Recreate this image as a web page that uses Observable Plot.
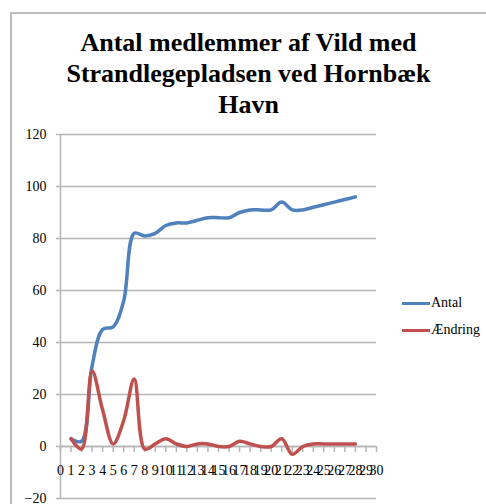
<!DOCTYPE html>
<html>
<head>
<meta charset="utf-8">
<script src="https://cdn.jsdelivr.net/npm/d3@7"></script>
<script src="https://cdn.jsdelivr.net/npm/@observablehq/plot@0.6"></script>
<style>
  body { margin: 0; background: #fff; }
  #wrap { position: relative; width: 486px; height: 504px; overflow: hidden; font-family: "Liberation Serif", serif; color: #000; }
  #frame { position: absolute; left: 10px; top: 12px; right: -4px; bottom: -4px; border-left: 2px solid #bcbcbc; border-top: 2px solid #bcbcbc; }
  #title { position: absolute; left: 11px; width: 475px; top: 27px; text-align: center; font-weight: bold; font-size: 26px; line-height: 31px; margin: 0; }
  #chart { position: absolute; left: 0; top: 128px; }
  .leg { position: absolute; left: 402px; height: 16px; display: flex; align-items: center; font-size: 14px; }
  .leg .sw { width: 28px; height: 3px; margin-right: 1px; }
</style>
</head>
<body>
<div id="wrap">
  <div id="frame"></div>
  <div id="title">Antal medlemmer af Vild med<br>Strandlegepladsen ved Hornbæk<br>Havn</div>
  <div id="chart"></div>
</div>
<script>
const dage = [1,2,3,4,5,6,7,8,9,10,11,12,13,14,15,16,17,18,19,20,21,22,23,24,25,26,27,28];
const antal = [3,2,31,45,46,56,82,81,82,85,86,86,87,88,88,88,90,91,91,91,94,91,91,92,93,94,95,96];
const aendring = [3,-1,29,14,1,10,26,-1,1,3,1,0,1,1,0,0,2,1,0,0,3,-3,0,1,1,1,1,1];
const xTicks = [0,1,2,3,4,5,6,7,8,9,10,11,12,13,14,15,16,17,18,19,20,21,22,23,24,25,26,27,28,29,30];
const yTicks = [-20,0,20,40,60,80,100,120];
const seriesNames = ["Antal", "Ændring"];
const seriesColors = ["#4F81BD", "#C0504D"];

const data = dage.map((d, i) => ({dag: d, antal: antal[i], aendring: aendring[i]}));
const gridColor = "#b5b5b5";

const chart = Plot.plot({
  width: 486,
  height: 376,
  marginLeft: 60,
  marginRight: 110,
  marginTop: 6,
  marginBottom: 6,
  style: {fontFamily: '"Liberation Serif", serif', fontSize: "14px", color: "#000", background: "transparent", overflow: "visible"},
  x: {domain: [0, 30], axis: null},
  y: {domain: [-20, 120], axis: null},
  marks: [
    Plot.gridY(yTicks, {stroke: gridColor, strokeOpacity: 1, strokeWidth: 1.5}),
    Plot.axisY(yTicks, {tickSize: 4, tickPadding: 10, stroke: gridColor, strokeWidth: 1.5, label: null}),
    Plot.ruleX([0], {stroke: gridColor, strokeWidth: 1.5}),
    Plot.ruleY([0], {stroke: gridColor, strokeWidth: 1.5}),
    Plot.ruleX(xTicks, {x: d => d, y1: 0, y2: 0, insetBottom: -6, stroke: gridColor, strokeWidth: 1.5}),
    Plot.text(xTicks, {x: d => d, y: 0, dy: 24, text: d => String(d), fill: "#000"}),
    Plot.line(data, {x: "dag", y: "antal", curve: "catmull-rom", stroke: seriesColors[0], strokeWidth: 3.5}),
    Plot.line(data, {x: "dag", y: "aendring", curve: "catmull-rom", stroke: seriesColors[1], strokeWidth: 3.5})
  ]
});
document.getElementById("chart").appendChild(chart);

const wrap = document.getElementById("wrap");
seriesNames.forEach((name, i) => {
  const item = document.createElement("div");
  item.className = "leg";
  item.style.top = (295 + i * 27) + "px";
  const sw = document.createElement("span");
  sw.className = "sw";
  sw.style.background = seriesColors[i];
  const t = document.createElement("span");
  t.textContent = name;
  item.appendChild(sw);
  item.appendChild(t);
  wrap.appendChild(item);
});
</script>
</body>
</html>
